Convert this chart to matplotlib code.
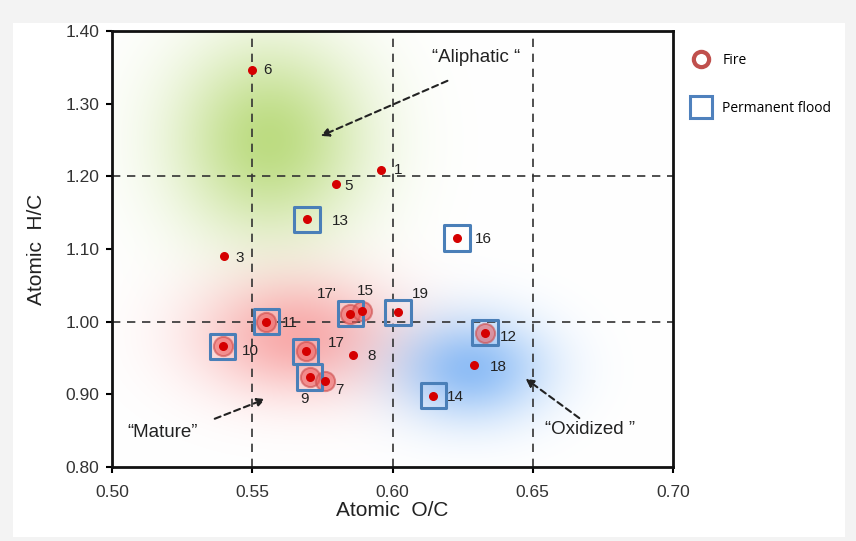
import numpy as np
import matplotlib
matplotlib.use("Agg")
import matplotlib.pyplot as plt
from matplotlib.patches import Rectangle
from matplotlib.lines import Line2D

plt.rcParams['font.family'] = ['Liberation Sans', 'DejaVu Sans']

# sample data
labels = ['6', '1', '5', '13', '3', '16', '11', '10', '17', '9', '7', '8', "17'", '15', '19', '12', '18', '14']
oc = [0.550, 0.596, 0.580, 0.5695, 0.540, 0.623, 0.555, 0.5395, 0.569, 0.5705, 0.576, 0.586, 0.585, 0.589, 0.602, 0.633, 0.629, 0.6145]
hc = [1.346, 1.209, 1.189, 1.141, 1.090, 1.115, 1.000, 0.966, 0.959, 0.924, 0.918, 0.954, 1.011, 1.014, 1.013, 0.985, 0.940, 0.898]
fire = ['11', '10', '17', '9', '7', "17'", '15', '12']
flood = ['13', '16', '11', '10', '17', '9', "17'", '19', '12', '14']

# label offsets in points
lab_off = {'6': (11, 0), '1': (12, 0), '5': (9, -1), '13': (24, -1), '3': (11, -1),
           '16': (19, -1), '11': (17, -1), '10': (20, -3), '17': (22, 6), '9': (-4, -16),
           '7': (10, -6), '8': (13, -1), "17'": (-17, 14), '15': (3, 15), '19': (16, 13),
           '12': (17, -3), '18': (18, -1), '14': (16, -1)}

fig = plt.figure(figsize=(8.56, 5.41), dpi=100, facecolor='#f3f3f3')
fig.patches.append(Rectangle((13/856, 4/541), 832/856, 514/541, transform=fig.transFigure,
                             facecolor='white', edgecolor='none', zorder=-5))
ax = fig.add_axes([112/856, 74/541, 561/856, 436/541])
ax.set_zorder(2)

# soft coloured regions
xg, yg = np.meshgrid(np.linspace(0.5, 0.7, 400), np.linspace(0.8, 1.4, 400))
img = np.ones((400, 400, 3))
blobs = [((0.556, 1.25), (0.024, 0.095), (0.64, 0.81, 0.32), 0.72),
         ((0.566, 0.98), (0.025, 0.058), (0.96, 0.47, 0.47), 0.62),
         ((0.628, 0.935), (0.019, 0.05), (0.36, 0.63, 0.95), 0.68)]
for (cx, cy), (sx, sy), col, amax in blobs:
    a = amax * np.exp(-0.5 * (((xg - cx) / sx) ** 2 + ((yg - cy) / sy) ** 2))
    img = img * (1 - a[..., None]) + np.array(col) * a[..., None]
ax.imshow(img, extent=[0.5, 0.7, 0.8, 1.4], origin='lower', aspect='auto', zorder=0)

for xv in [0.55, 0.60, 0.65]:
    ax.axvline(xv, color='#333333', lw=1.2, dashes=(5, 4), zorder=1)
for yv in [1.20, 1.00]:
    ax.axhline(yv, color='#333333', lw=1.2, dashes=(5, 4), zorder=1)

oc = np.array(oc)
hc = np.array(hc)
is_fire = np.array([l in fire for l in labels])
is_flood = np.array([l in flood for l in labels])

ax.scatter(oc[is_fire], hc[is_fire], s=190, facecolor=(0.93, 0.35, 0.35, 0.55),
           edgecolor=(0.8, 0.3, 0.3, 0.6), lw=1.5, zorder=3)
ax.scatter(oc[is_flood], hc[is_flood], s=330, marker='s', facecolor='none',
           edgecolor='#4a7fb8', lw=2.2, zorder=4)
ax.scatter(oc, hc, s=30, color='#d50000', zorder=5)

for l, x, y in zip(labels, oc, hc):
    ax.annotate(l, (x, y), xytext=lab_off[l], textcoords='offset points',
                ha='center', va='center', fontsize=11, color='#222222', zorder=6)

aprops = dict(arrowstyle='-|>', linestyle=(0, (3, 2)), lw=1.5, color='#222222',
              mutation_scale=12)
ax.annotate('', xy=(0.5735, 1.254), xytext=(0.6205, 1.333), arrowprops=aprops, zorder=6)
ax.annotate('', xy=(0.5556, 0.895), xytext=(0.5357, 0.865), arrowprops=aprops, zorder=6)
ax.annotate('', xy=(0.6466, 0.924), xytext=(0.6674, 0.865), arrowprops=aprops, zorder=6)
ax.text(0.6298, 1.363, '\u201cAliphatic \u201c', ha='center', va='center', fontsize=13.5, color='#222222')
ax.text(0.5182, 0.847, '\u201cMature\u201d', ha='center', va='center', fontsize=13.5, color='#222222')
ax.text(0.6704, 0.851, '\u201cOxidized \u201d', ha='center', va='center', fontsize=13.5, color='#222222')

ax.set_xlim(0.5, 0.7)
ax.set_ylim(0.8, 1.4)
ax.set_xticks([0.50, 0.55, 0.60, 0.65, 0.70])
ax.set_yticks([0.80, 0.90, 1.00, 1.10, 1.20, 1.30, 1.40])
ax.set_xticklabels(['0.50', '0.55', '0.60', '0.65', '0.70'])
ax.set_yticklabels(['0.80', '0.90', '1.00', '1.10', '1.20', '1.30', '1.40'])
ax.tick_params(direction='out', length=4, width=1.5, labelsize=12.5, labelcolor='#333333', pad=5)
ax.tick_params(axis='x', pad=9)
for sp in ax.spines.values():
    sp.set_linewidth(2)
    sp.set_color('#111111')
ax.set_xlabel('Atomic  O/C', fontsize=15, color='#222222', labelpad=1)
ax.set_ylabel('Atomic  H/C', fontsize=15, color='#222222', labelpad=14)

handles = [Line2D([], [], ls='none', marker='o', ms=11, mfc='none', mec='#c0504d', mew=3),
           Line2D([], [], ls='none', marker='s', ms=16, mfc='none', mec='#4f81bd', mew=2.2)]
fig.legend(handles, ['Fire', 'Permanent flood'], loc='upper left', bbox_to_anchor=(675/856, 1 - 40/541),
           frameon=False, labelspacing=2.4, handletextpad=0.5, prop={'family': 'Open Sans', 'size': 10})

fig.savefig('out.png', dpi=100, facecolor=fig.get_facecolor())
